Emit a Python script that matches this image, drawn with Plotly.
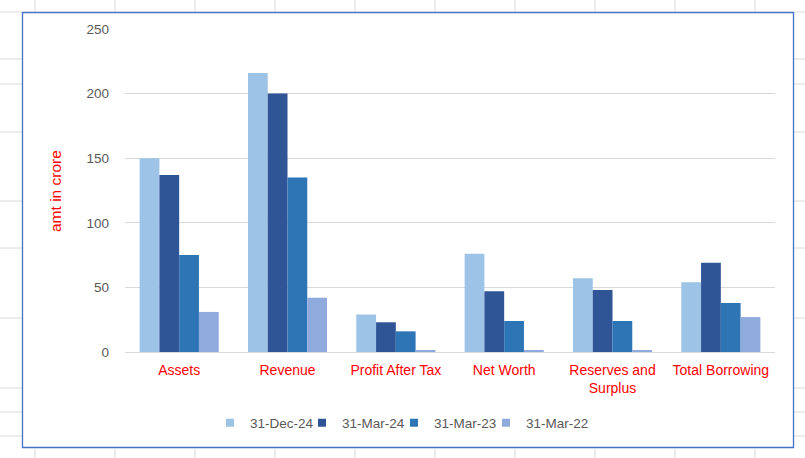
import plotly.graph_objects as go

categories = ["Assets", "Revenue", "Profit After Tax", "Net Worth", "Reserves and<br>Surplus", "Total Borrowing"]
series_names = ["31-Dec-24", "31-Mar-24", "31-Mar-23", "31-Mar-22"]
dec24 = [150, 216, 29, 76, 57, 54]
mar24 = [137, 200, 23, 47, 48, 69]
mar23 = [75, 135, 16, 24, 24, 38]
mar22 = [31, 42, 1, 1, 1, 27]
colors = ["#9DC3E6", "#2F5597", "#2E75B6", "#8FAADC"]
y_ticks = [0, 50, 100, 150, 200, 250]

W, H = 805, 458
L, R, T, B = 125, 30, 29, 106
PW, PH = W - L - R, H - T - B

def px2x(px):
    return (px - L) / PW

def px2y(py):
    return (H - B - py) / PH

FONT = "Liberation Sans"

fig = go.Figure()
for name, vals, col in zip(series_names, [dec24, mar24, mar23, mar22], colors):
    fig.add_trace(go.Bar(x=categories, y=vals, name=name, marker=dict(color=col, line=dict(width=0)),
                         showlegend=False))
    fig.add_trace(go.Scatter(x=[None], y=[None], mode="markers", name=name,
                             marker=dict(symbol="square", size=8, color=col)))
# spacer entry so the last legend label is not clipped
fig.add_trace(go.Scatter(x=[None], y=[None], mode="markers", name=" ", hoverinfo="skip",
                         marker=dict(symbol="square", size=8, color="rgba(0,0,0,0)")))

shapes = []
grid_col = "#DADADA"
# spreadsheet cell lines outside chart frame
for ry in [12, 59, 84, 132, 201, 248, 318, 388, 412, 436]:
    shapes.append(dict(type="line", xref="paper", yref="paper", x0=px2x(0), x1=px2x(22), y0=px2y(ry), y1=px2y(ry),
                       line=dict(color=grid_col, width=1), layer="below"))
    shapes.append(dict(type="line", xref="paper", yref="paper", x0=px2x(794), x1=px2x(805), y0=px2y(ry), y1=px2y(ry),
                       line=dict(color=grid_col, width=1), layer="below"))
for cx in [35, 115, 195, 275, 355, 435, 515, 595, 675, 755]:
    shapes.append(dict(type="line", xref="paper", yref="paper", x0=px2x(cx), x1=px2x(cx), y0=px2y(0), y1=px2y(12),
                       line=dict(color=grid_col, width=1), layer="below"))
    shapes.append(dict(type="line", xref="paper", yref="paper", x0=px2x(cx), x1=px2x(cx), y0=px2y(449), y1=px2y(458),
                       line=dict(color=grid_col, width=1), layer="below"))
# chart frame
shapes.append(dict(type="rect", xref="paper", yref="paper", x0=px2x(22.5), x1=px2x(793.5), y0=px2y(447.5), y1=px2y(12.5),
                   line=dict(color="#4472C4", width=1.3), fillcolor="rgba(0,0,0,0)", layer="below"))

fig.update_layout(
    width=W, height=H,
    margin=dict(l=L, r=R, t=T, b=B, pad=0),
    paper_bgcolor="white", plot_bgcolor="white",
    barmode="group", bargap=0.27, bargroupgap=0,
    font=dict(family=FONT, size=13, color="#595959"),
    shapes=shapes,
    showlegend=True,
    legend=dict(orientation="h", xref="paper", x=px2x(210), xanchor="left", y=px2y(423), yanchor="middle",
                font=dict(family=FONT, size=13.5, color="#595959"), itemwidth=30, bgcolor="rgba(0,0,0,0)",
                tracegroupgap=0, entrywidth=47, entrywidthmode="pixels"),
    annotations=[dict(text="amt in crore", xref="paper", yref="paper", x=px2x(55), y=px2y(191),
                      textangle=-90, showarrow=False, font=dict(family=FONT, size=15.5, color="#FF0000"),
                      xanchor="center", yanchor="middle")],
)
fig.update_xaxes(showgrid=False, showline=True, linecolor="#D9D9D9", linewidth=1,
                 tickfont=dict(family=FONT, size=14, color="#FF0000"), ticks="", ticklabelstandoff=5,
                 fixedrange=True)
fig.update_yaxes(range=[0, 250], tickvals=y_ticks, showgrid=True, gridcolor="#D9D9D9", gridwidth=1,
                 zeroline=False, showline=False, ticks="", ticklabelstandoff=15,
                 tickfont=dict(family=FONT, size=13.5, color="#595959"), fixedrange=True)

fig.write_html("out.html", config={"displayModeBar": False},
               post_script="document.body.style.margin='0';document.body.style.overflow='hidden';")
